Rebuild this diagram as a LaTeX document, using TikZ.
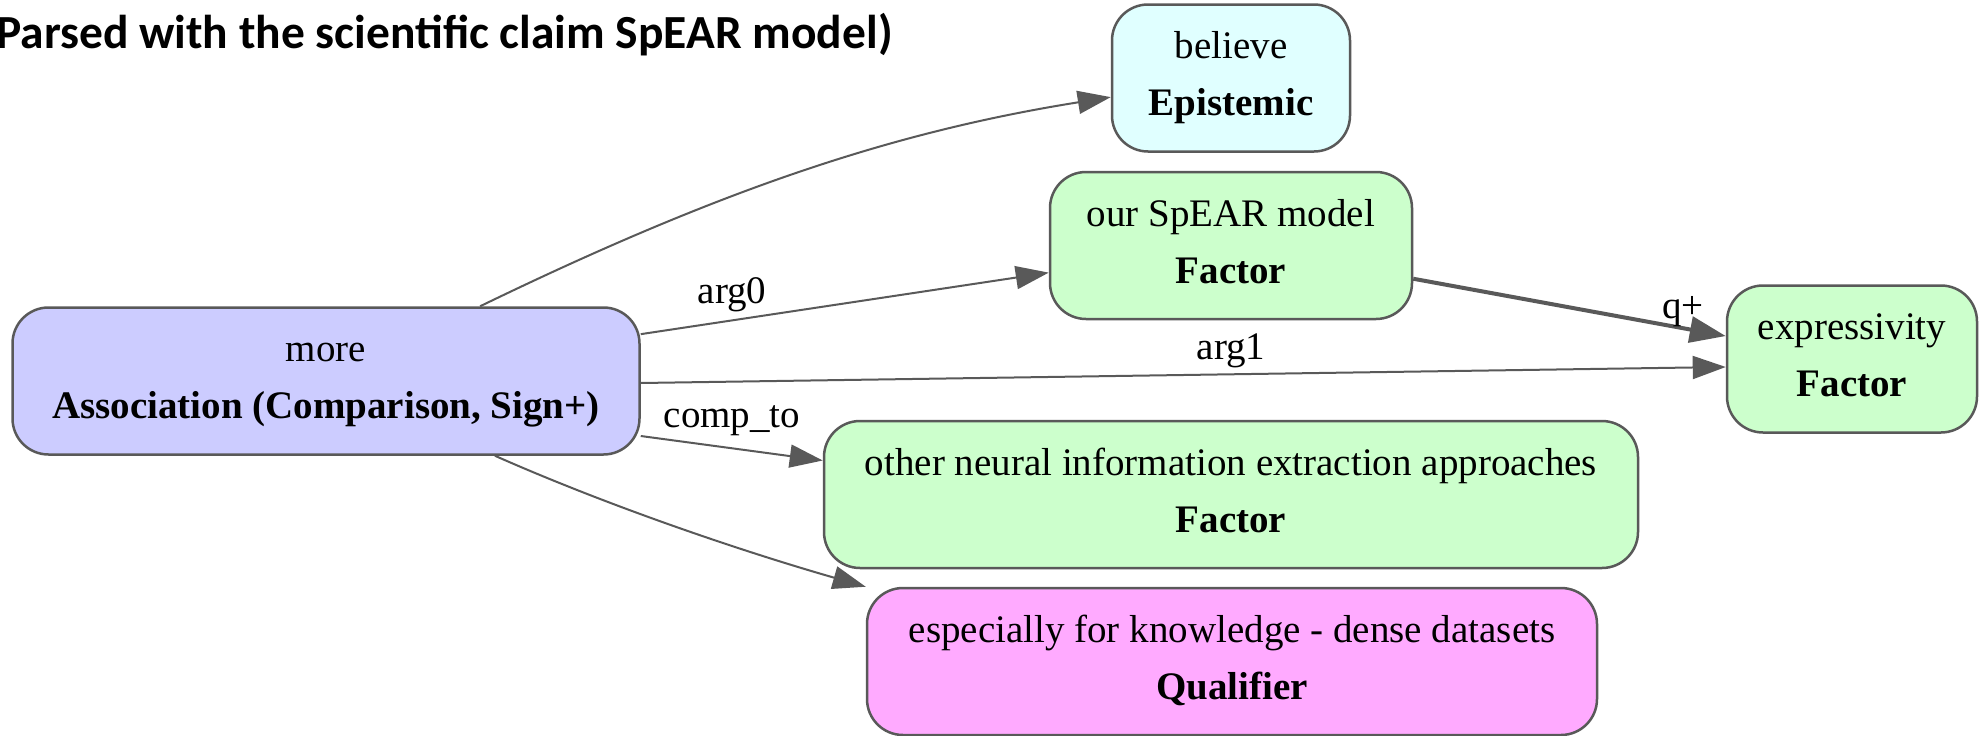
\documentclass[tikz,border=0pt]{standalone}
\usepackage{fontspec}
\setmainfont{Liberation Serif}
\newfontfamily\titlefont{Carlito}
\usetikzlibrary{arrows.meta}

\definecolor{edgegray}{HTML}{595959}
\definecolor{assocfill}{HTML}{CCCCFF}
\definecolor{factorfill}{HTML}{CCFFCC}
\definecolor{epifill}{HTML}{E0FFFF}
\definecolor{qualfill}{HTML}{FFAAFF}

% fixed line strut so every two-line label sits at the same baselines
\newcommand{\lnstrut}{\rule[-9pt]{0pt}{36pt}}
\newcommand{\twolines}[2]{\lnstrut #1\\\lnstrut\textbf{#2}}

\tikzset{
  box/.style={draw=edgegray, line width=2.5pt, rounded corners=36pt,
    inner sep=0pt, align=center, minimum height=147pt,
    font=\fontsize{39}{57}\selectfont},
  edge/.style={draw=edgegray, line width=2pt,
    -{Triangle[length=33pt,width=23pt]}},
  strong/.style={draw=edgegray, line width=4pt,
    -{Triangle[length=36pt,width=26pt]}},
  lbl/.style={inner sep=0pt, anchor=base, font=\fontsize{39}{47}\selectfont},
}

\begin{document}
\begin{tikzpicture}[x=1pt, y=-1pt]
  \useasboundingbox (0,0) rectangle (1979,736);

  % heading
  \node[inner sep=0pt, anchor=base east, font=\titlefont\bfseries\fontsize{47.5}{54}\selectfont]
    (heading) at (893,48) {Parsed with the scientific claim SpEAR model)};

  % claim graph nodes
  \node[box, fill=assocfill, minimum width=627pt] (more) at (326,381)
    {\twolines{more}{Association (Comparison, Sign+)}};
  \node[box, fill=epifill, minimum width=238pt] (believe) at (1231,78)
    {\twolines{believe}{Epistemic}};
  \node[box, fill=factorfill, minimum width=362pt] (spear) at (1231,245.5)
    {\twolines{our SpEAR model}{Factor}};
  \node[box, fill=factorfill, minimum width=250pt] (expr) at (1852,359)
    {\twolines{expressivity}{Factor}};
  \node[box, fill=factorfill, minimum width=814pt] (other) at (1231,494.5)
    {\twolines{other neural information extraction approaches}{Factor}};
  \node[box, fill=qualfill, minimum width=730pt] (espec) at (1232,661.5)
    {\twolines{especially for knowledge - dense datasets}{Qualifier}};

  % relations
  \draw[edge] (more) .. controls (720,190) and (892,132) .. (believe);
  \draw[edge] (more) -- (spear);
  \draw[strong] (spear) -- (expr);
  \draw[edge] ([yshift=-2pt]more.east) -- ([yshift=-8pt]expr.west);
  \draw[edge] ([yshift=-55pt]more.east) -- ([yshift=34pt]other.west);
  \draw[edge] (more) .. controls (613,508) and (748,553) .. (espec.north west);

  % relation labels
  \node[lbl] (l-arg0) at (732,303) {arg0};
  \node[lbl] (l-arg1) at (1231,359) {arg1};
  \node[lbl] (l-comp) at (732,427) {comp\_to};
  \node[lbl] (l-qplus) at (1683,318) {q+};
\end{tikzpicture}
\end{document}
